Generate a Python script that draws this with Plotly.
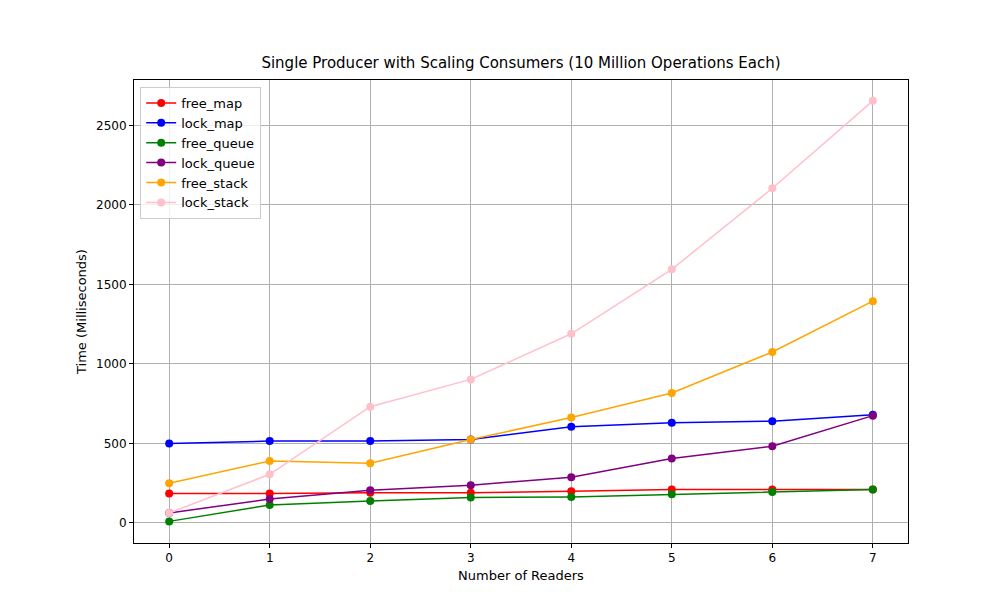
import plotly.graph_objects as go

readers = [0, 1, 2, 3, 4, 5, 6, 7]
free_map = [185, 185, 190, 190, 200, 210, 210, 210]
lock_map = [500, 515, 515, 525, 605, 630, 640, 680]
free_queue = [10, 113, 138, 160, 163, 180, 194, 210]
lock_queue = [63, 150, 206, 238, 288, 406, 483, 675]
free_stack = [250, 390, 375, 525, 663, 818, 1075, 1395]
lock_stack = [63, 306, 731, 903, 1190, 1595, 2105, 2655]

series = [
    ("free_map", free_map, "red"),
    ("lock_map", lock_map, "blue"),
    ("free_queue", free_queue, "green"),
    ("lock_queue", lock_queue, "purple"),
    ("free_stack", free_stack, "orange"),
    ("lock_stack", lock_stack, "pink"),
]

fig = go.Figure()
for name, vals, col in series:
    fig.add_trace(go.Scatter(x=readers, y=vals, name=name, mode="lines+markers",
                             line=dict(color=col, width=1.5),
                             marker=dict(color=col, size=8)))

axis = dict(showgrid=True, gridcolor="#b0b0b0", gridwidth=1, zeroline=False,
            showline=True, linecolor="black", mirror=True, ticks="outside",
            ticklen=4, tickcolor="black", automargin=False)
fig.update_layout(
    width=1000, height=600,
    paper_bgcolor="white", plot_bgcolor="white",
    font=dict(family="DejaVu Sans", size=12, color="black"),
    title=dict(text="Single Producer with Scaling Consumers (10 Million Operations Each)",
               x=0.513, xanchor="center", y=0.9, yanchor="bottom", font=dict(size=15)),
    margin=dict(l=126, r=100, t=72, b=65),
    xaxis=dict(axis, range=[-0.35, 7.35], tickvals=readers,
               title=dict(text="Number of Readers", standoff=6, font=dict(size=13))),
    yaxis=dict(axis, range=[-126, 2786], tickvals=[0, 500, 1000, 1500, 2000, 2500],
               title=dict(text="Time (Milliseconds)", standoff=6, font=dict(size=13))),
    legend=dict(x=0.008, y=0.985, xanchor="left", yanchor="top",
                bordercolor="#cccccc", borderwidth=1, bgcolor="rgba(255,255,255,0.8)",
                font=dict(size=13), tracegroupgap=0),
)
fig.write_html("out.html")
